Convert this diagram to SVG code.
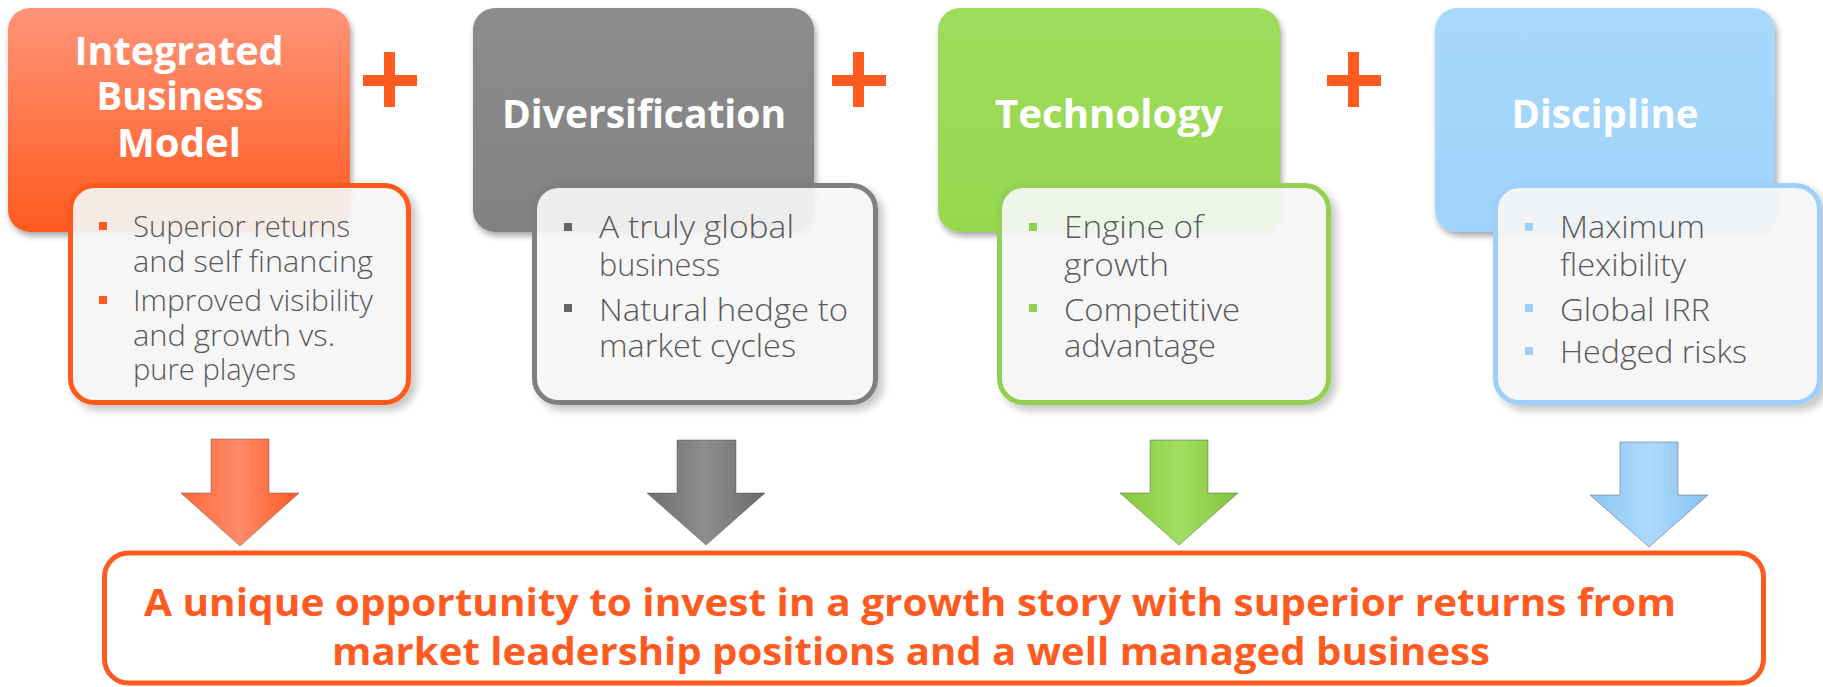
<svg xmlns="http://www.w3.org/2000/svg" width="1823" height="687" viewBox="0 0 1823 687">
<defs>
<style>
.hd{font-family:"Open Sans","Liberation Sans",sans-serif;font-weight:700;fill:#fff;text-anchor:middle;font-size:40px}
.bt{font-family:"Open Sans","Liberation Sans",sans-serif;font-weight:300;font-size:29px;fill:#595959}
.bt2{font-family:"Open Sans","Liberation Sans",sans-serif;font-weight:300;font-size:31px;fill:#595959}
.card{fill:#f8f8f8;fill-opacity:0.9;stroke-width:5}
.plus{fill:#ff5a1f}
.arr{stroke:#4d4d4d;stroke-opacity:0.45;stroke-width:1}
.final{font-family:"Open Sans","Liberation Sans",sans-serif;font-weight:700;font-size:38px;fill:#ff5a1f;text-anchor:middle}
</style>
<filter id="sh" x="-10%" y="-10%" width="125%" height="130%">
<feGaussianBlur in="SourceAlpha" stdDeviation="3"/>
<feOffset dx="2" dy="4" result="b"/>
<feComponentTransfer><feFuncA type="linear" slope="0.35"/></feComponentTransfer>
<feMerge><feMergeNode/><feMergeNode in="SourceGraphic"/></feMerge>
</filter>
<filter id="sh2" x="-10%" y="-10%" width="125%" height="130%">
<feGaussianBlur in="SourceAlpha" stdDeviation="4"/>
<feOffset dx="5" dy="5" result="b"/>
<feComponentTransfer><feFuncA type="linear" slope="0.25"/></feComponentTransfer>
<feMerge><feMergeNode/><feMergeNode in="SourceGraphic"/></feMerge>
</filter>
<linearGradient id="gO" x1="0" y1="0" x2="0" y2="1"><stop offset="0" stop-color="#ff9478"/><stop offset="1" stop-color="#ff5a1f"/></linearGradient>
<linearGradient id="gG" x1="0" y1="0" x2="0" y2="1"><stop offset="0" stop-color="#8c8c8c"/><stop offset="1" stop-color="#828282"/></linearGradient>
<linearGradient id="gN" x1="0" y1="0" x2="0" y2="1"><stop offset="0" stop-color="#9edc5c"/><stop offset="1" stop-color="#96d84f"/></linearGradient>
<linearGradient id="gB" x1="0" y1="0" x2="0" y2="1"><stop offset="0" stop-color="#a8d8fc"/><stop offset="1" stop-color="#a0d3fb"/></linearGradient>
<linearGradient id="aO" x1="0" y1="0" x2="1" y2="0"><stop offset="0" stop-color="#ff6a38"/><stop offset="0.5" stop-color="#ff8a6a"/><stop offset="1" stop-color="#ff5a1f"/></linearGradient>
<linearGradient id="aG" x1="0" y1="0" x2="1" y2="0"><stop offset="0" stop-color="#6f6f6f"/><stop offset="0.5" stop-color="#8e8e8e"/><stop offset="1" stop-color="#6a6a6a"/></linearGradient>
<linearGradient id="aN" x1="0" y1="0" x2="1" y2="0"><stop offset="0" stop-color="#84c83c"/><stop offset="0.5" stop-color="#a2de60"/><stop offset="1" stop-color="#80c437"/></linearGradient>
<linearGradient id="aB" x1="0" y1="0" x2="1" y2="0"><stop offset="0" stop-color="#8cc6f3"/><stop offset="0.5" stop-color="#acdafd"/><stop offset="1" stop-color="#88c2f0"/></linearGradient>
</defs>
<rect width="1823" height="687" fill="#fff"/>

<g id="node-integrated">
<rect x="8" y="8" width="342" height="224" rx="22" fill="url(#gO)" filter="url(#sh)"/>
<text class="hd" font-size="41" x="179" y="65" textLength="209" lengthAdjust="spacingAndGlyphs">Integrated</text>
<text class="hd" font-size="41" x="180" y="110" textLength="167" lengthAdjust="spacingAndGlyphs">Business</text>
<text class="hd" font-size="41" x="179" y="157" textLength="124" lengthAdjust="spacingAndGlyphs">Model</text>
<rect class="card" x="70.5" y="185.5" width="338" height="217" rx="24" stroke="#ff5a1f" filter="url(#sh2)"/>
<rect x="99" y="222" width="8" height="8" fill="#ff5a1f"/>
<rect x="99" y="296" width="8" height="8" fill="#ff5a1f"/>
<text class="bt" x="133" y="237" textLength="217" lengthAdjust="spacingAndGlyphs">Superior returns</text>
<text class="bt" x="133" y="272" textLength="240" lengthAdjust="spacingAndGlyphs">and self financing</text>
<text class="bt" x="133" y="311" textLength="240" lengthAdjust="spacingAndGlyphs">Improved visibility</text>
<text class="bt" x="133" y="346" textLength="202" lengthAdjust="spacingAndGlyphs">and growth vs.</text>
<text class="bt" x="133" y="380" textLength="163" lengthAdjust="spacingAndGlyphs">pure players</text>
</g>

<g id="node-diversification">
<rect x="473" y="8" width="341" height="224" rx="22" fill="url(#gG)" filter="url(#sh)"/>
<text class="hd" x="644" y="128" textLength="284" lengthAdjust="spacingAndGlyphs">Diversification</text>
<rect class="card" x="534.5" y="185.5" width="341" height="217" rx="24" stroke="#7f7f7f" filter="url(#sh2)"/>
<rect x="564" y="223" width="8" height="8" fill="#666"/>
<rect x="564" y="304" width="8" height="8" fill="#666"/>
<text class="bt2" x="599" y="238" textLength="195" lengthAdjust="spacingAndGlyphs">A truly global</text>
<text class="bt2" x="599" y="276" textLength="121" lengthAdjust="spacingAndGlyphs">business</text>
<text class="bt2" x="599" y="321" textLength="249" lengthAdjust="spacingAndGlyphs">Natural hedge to</text>
<text class="bt2" x="599" y="357" textLength="197" lengthAdjust="spacingAndGlyphs">market cycles</text>
</g>

<g id="node-technology">
<rect x="938" y="8" width="342" height="224" rx="22" fill="url(#gN)" filter="url(#sh)"/>
<text class="hd" x="1109" y="128" textLength="228" lengthAdjust="spacingAndGlyphs">Technology</text>
<rect class="card" x="999.5" y="185.5" width="329" height="217" rx="24" stroke="#92d050" filter="url(#sh2)"/>
<rect x="1029" y="223" width="8" height="8" fill="#92d050"/>
<rect x="1029" y="304" width="8" height="8" fill="#92d050"/>
<text class="bt2" x="1064" y="238" textLength="139" lengthAdjust="spacingAndGlyphs">Engine of</text>
<text class="bt2" x="1064" y="276" textLength="105" lengthAdjust="spacingAndGlyphs">growth</text>
<text class="bt2" x="1064" y="321" textLength="176" lengthAdjust="spacingAndGlyphs">Competitive</text>
<text class="bt2" x="1064" y="357" textLength="152" lengthAdjust="spacingAndGlyphs">advantage</text>
</g>

<g id="node-discipline">
<rect x="1435" y="8" width="340" height="224" rx="22" fill="url(#gB)" filter="url(#sh)"/>
<text class="hd" x="1605" y="128" textLength="187" lengthAdjust="spacingAndGlyphs">Discipline</text>
<rect class="card" x="1495.5" y="185.5" width="324" height="217" rx="24" stroke="#9dcffb" filter="url(#sh2)"/>
<rect x="1525" y="223" width="8" height="8" fill="#9dcffb"/>
<rect x="1525" y="304" width="8" height="8" fill="#9dcffb"/>
<rect x="1525" y="347" width="8" height="8" fill="#9dcffb"/>
<text class="bt2" x="1560" y="238" textLength="145" lengthAdjust="spacingAndGlyphs">Maximum</text>
<text class="bt2" x="1560" y="276" textLength="126" lengthAdjust="spacingAndGlyphs">flexibility</text>
<text class="bt2" x="1560" y="321" textLength="150" lengthAdjust="spacingAndGlyphs">Global IRR</text>
<text class="bt2" x="1560" y="363" textLength="187" lengthAdjust="spacingAndGlyphs">Hedged risks</text>
</g>

<g id="plus-signs">
<rect class="plus" x="363" y="75" width="54" height="11"/><rect class="plus" x="384" y="52" width="11" height="55"/>
<rect class="plus" x="832" y="75" width="54" height="11"/><rect class="plus" x="853" y="52" width="11" height="55"/>
<rect class="plus" x="1327" y="75" width="54" height="11"/><rect class="plus" x="1348" y="52" width="11" height="55"/>
</g>

<g id="connectors">
<polygon class="arr" fill="url(#aO)" points="211,439 269,439 269,493 299,493 240,546 181,493 211,493"/>
<polygon class="arr" fill="url(#aG)" points="677,440 736,440 736,493 765,493 706,545 647,493 677,493"/>
<polygon class="arr" fill="url(#aN)" points="1150,440 1208,440 1208,493 1238,493 1179,545 1120,493 1150,493"/>
<polygon class="arr" fill="url(#aB)" points="1620,442 1678,442 1678,495 1708,495 1649,547 1590,495 1620,495"/>
</g>

<g id="node-result">
<rect x="104.5" y="553" width="1659" height="130" rx="24" fill="#fff" stroke="#ff5a1f" stroke-width="5"/>
<text class="final" x="910" y="616" textLength="1532" lengthAdjust="spacingAndGlyphs">A unique opportunity to invest in a growth story with superior returns from</text>
<text class="final" x="911" y="665" textLength="1158" lengthAdjust="spacingAndGlyphs">market leadership positions and a well managed business</text>
</g>
</svg>
